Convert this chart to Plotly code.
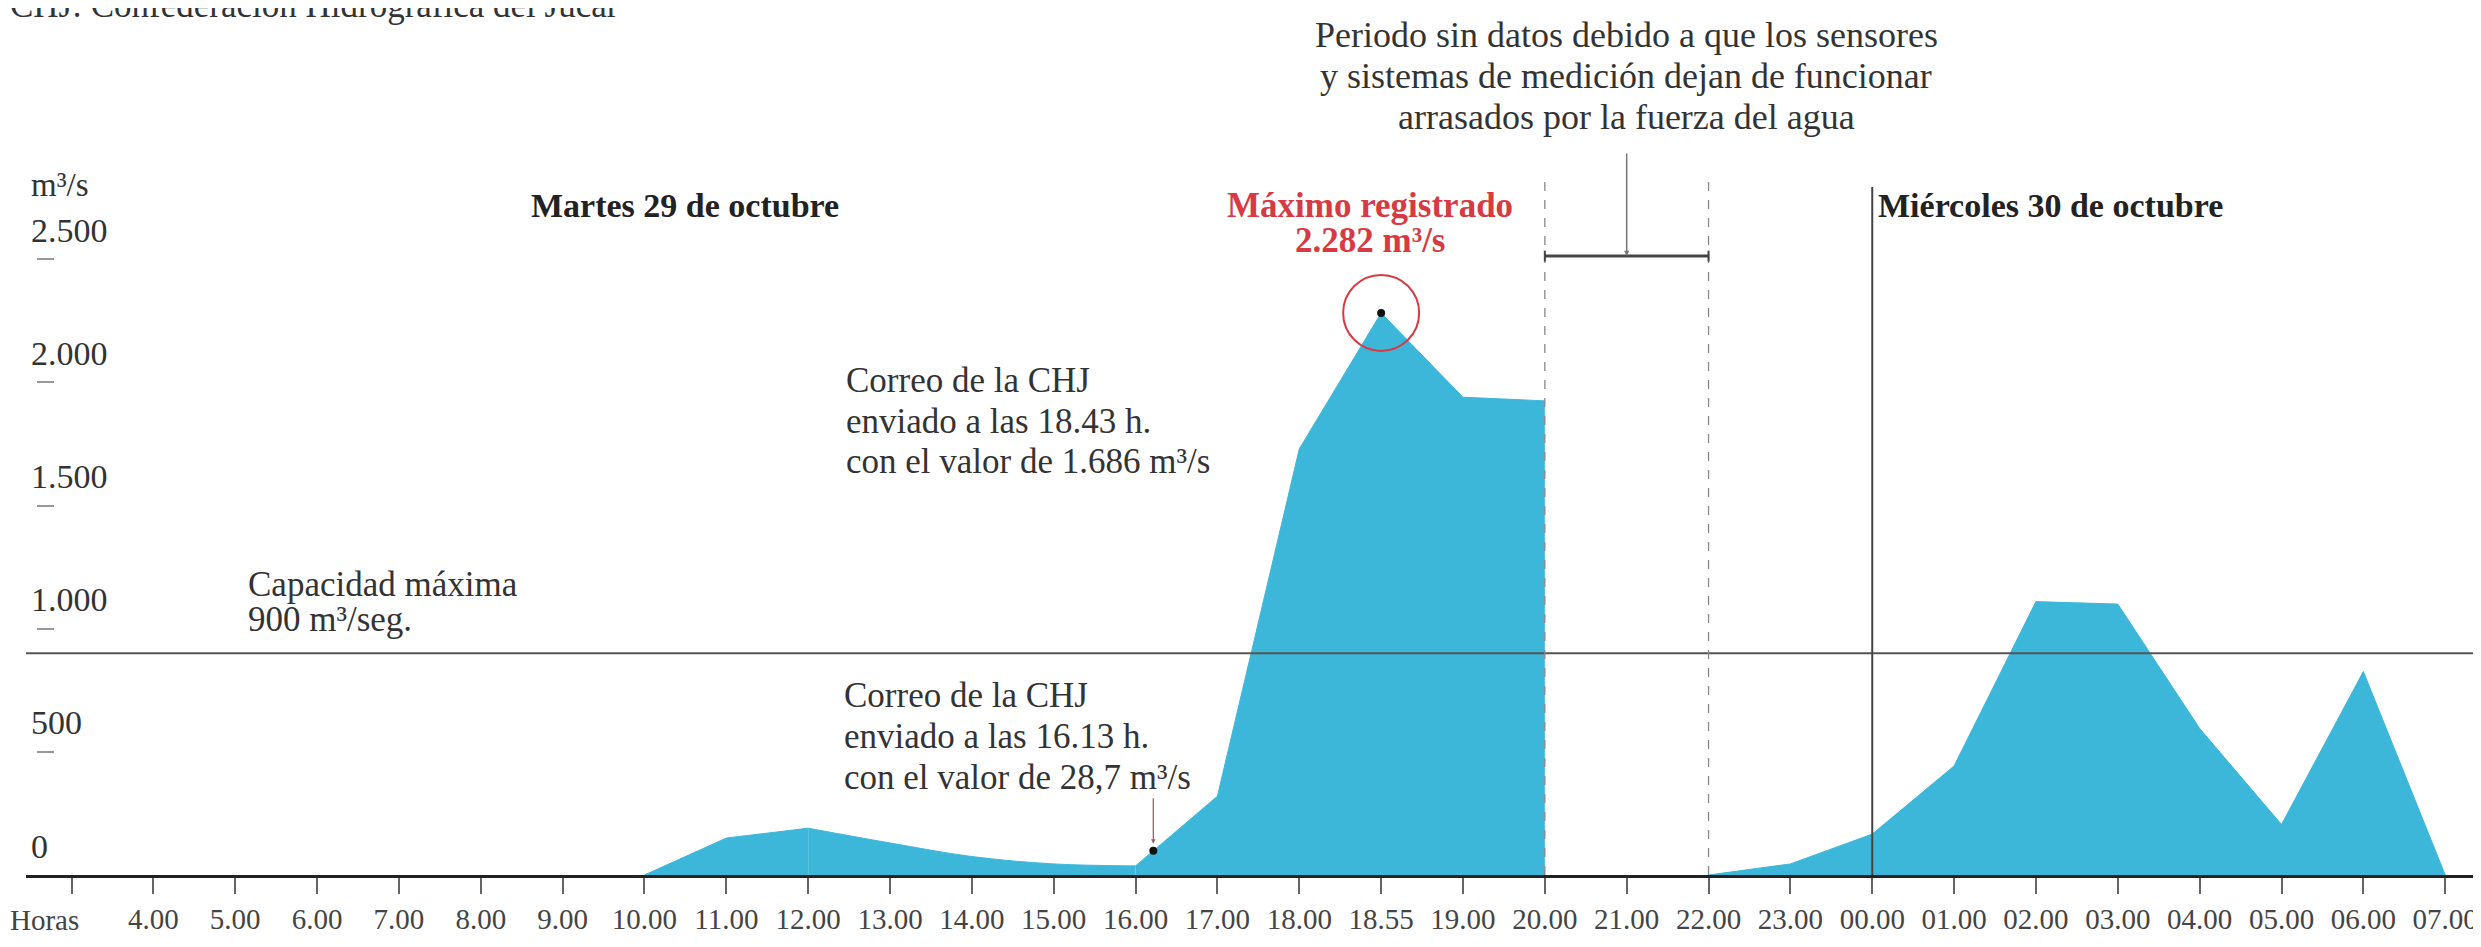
import numpy as np
import plotly.graph_objects as go

# ---------------- data ----------------
HOURS = ["Horas", "4.00", "5.00", "6.00", "7.00", "8.00", "9.00", "10.00", "11.00",
         "12.00", "13.00", "14.00", "15.00", "16.00", "17.00", "18.00", "18.55",
         "19.00", "20.00", "21.00", "22.00", "23.00", "00.00", "01.00", "02.00",
         "03.00", "04.00", "05.00", "06.00", "07.00"]

# Martes 29 de octubre (three pieces: rise, smooth valley, flood)
tue_a_hours = ["10.00", "11.00", "12.00"]
tue_a_vals = [0, 150, 190]
tue_b_hours = ["12.00", "13.00", "14.00", "15.00", "16.00"]
tue_b_vals = [190, 130, 75, 45, 37]
tue_c_hours = ["16.00", "17.00", "18.00", "18.55", "19.00", "20.00"]
tue_c_vals = [37, 320, 1730, 2282, 1940, 1925]

# Miércoles 30 de octubre
wed_hours = ["22.00", "23.00", "00.00", "01.00", "02.00", "03.00", "04.00",
             "05.00", "06.00", "07.00"]
wed_vals = [0, 45, 166, 443, 1110, 1100, 595, 205, 826, 0]

Y_TICKS = [0, 500, 1000, 1500, 2000, 2500]
Y_LABELS = ["0", "500", "1.000", "1.500", "2.000", "2.500"]
CAPACITY = 900
MAX_HOUR = "18.55"
MAX_VALUE = 2282
MAIL_HOUR = "16.00"
MAIL_MINUTES = 13
GAP_START, GAP_END = "20.00", "22.00"
DAY_CHANGE = "00.00"

# ---------------- layout constants ----------------
W, H = 2481, 947
ML, MR, MT, MB = 18, 0, 0, 80
PW, PH = W - ML - MR, H - MT - MB
X0, X1 = -0.556, 29.535
Y_MAX = PH / 0.2463
DY = -9   # vertical offset applied to text positions

BLUE = "rgb(61,183,217)"
RED = "#d83a44"
TXT = "#333333"
FONT = "Liberation Serif"


def pos(h):
    return HOURS.index(h)


def xpaper(px):
    return (px - ML) / PW


def ypaper(py):
    return (H - MB - py) / PH


fig = go.Figure()


def area(hours, vals, shape="linear"):
    fig.add_trace(go.Scatter(
        x=[pos(h) for h in hours], y=vals, mode="lines", fill="tozeroy",
        fillcolor=BLUE, line=dict(color=BLUE, width=1, shape=shape),
        hoverinfo="skip", showlegend=False))


area(tue_a_hours, tue_a_vals)
area(tue_b_hours, tue_b_vals, "spline")
area(tue_c_hours, tue_c_vals)
area(wed_hours, wed_vals)

# markers: maximum and the 16.13 h mail
mail_x = pos(MAIL_HOUR) + MAIL_MINUTES / 60
mail_y = float(np.interp(mail_x, [pos(h) for h in tue_c_hours], tue_c_vals))
fig.add_trace(go.Scatter(
    x=[pos(MAX_HOUR), mail_x], y=[MAX_VALUE, mail_y], mode="markers",
    marker=dict(color="#111111", size=8), hoverinfo="skip", showlegend=False))

shapes = []
# capacity line
shapes.append(dict(type="line", xref="paper", yref="y", x0=0, x1=1,
                   y0=CAPACITY, y1=CAPACITY, line=dict(color="#555555", width=2)))
# gap dashed lines
for h in (GAP_START, GAP_END):
    shapes.append(dict(type="line", xref="x", yref="y", x0=pos(h), x1=pos(h),
                       y0=0, y1=2826, line=dict(color="#888888", width=1.3, dash="dash")))
# bracket
BR = 2513
shapes.append(dict(type="line", xref="x", yref="y", x0=pos(GAP_START), x1=pos(GAP_END),
                   y0=BR, y1=BR, line=dict(color="#444444", width=3)))
for h in (GAP_START, GAP_END):
    shapes.append(dict(type="line", xref="x", yref="y", x0=pos(h), x1=pos(h),
                       y0=BR - 22, y1=BR + 22, line=dict(color="#444444", width=2)))
# day change line
shapes.append(dict(type="line", xref="x", yref="y", x0=pos(DAY_CHANGE), x1=pos(DAY_CHANGE),
                   y0=0, y1=2793, line=dict(color="#444444", width=2)))
# red circle around maximum
shapes.append(dict(type="circle", xref="x", yref="y",
                   xsizemode="pixel", ysizemode="pixel",
                   xanchor=pos(MAX_HOUR), yanchor=MAX_VALUE,
                   x0=-38, x1=38, y0=-38, y1=38,
                   line=dict(color=RED, width=2)))

ann = []


def text(s, px, py, size=35, color=TXT, bold=False, xanchor="left"):
    if bold:
        s = "<b>" + s + "</b>"
    ann.append(dict(text=s, xref="paper", yref="paper", x=xpaper(px), y=ypaper(py + DY),
                    xanchor=xanchor, yanchor="middle", showarrow=False,
                    font=dict(family=FONT, size=size, color=color)))


# source (cut at the top)
ann.append(dict(text="CHJ: Confederación Hidrográfica del Júcar", xref="paper", yref="paper",
                x=xpaper(0), y=ypaper(19), xanchor="left", yanchor="bottom",
                showarrow=False, font=dict(family=FONT, size=35, color=TXT)))

# y axis labels
text("m³/s", 21, 186, size=33)
for v, lab in zip(Y_TICKS, Y_LABELS):
    py = (H - MB - DY) - v / Y_MAX * PH
    text(lab, 21, py - 29, size=34)

# x axis caption (first tick)
text(HOURS[0], 0, 921, size=29, color="#444444")

# day titles
text("Martes 29 de octubre", 677, 207, size=34, color="#222222", bold=True, xanchor="center")
text("Miércoles 30 de octubre", 1868, 207, size=34, color="#222222", bold=True)

# maximum
text("Máximo registrado", 1362, 207, size=35, color=RED, bold=True, xanchor="center")
text("2.282 m³/s", 1362, 242, size=35, color=RED, bold=True, xanchor="center")

# no-data period
for i, s in enumerate(["Periodo sin datos debido a que los sensores",
                       "y sistemas de medición dejan de funcionar",
                       "arrasados por la fuerza del agua"]):
    text(s, 1618, 36 + 41 * i, size=36, xanchor="center")
ann.append(dict(text="", xref="x", yref="y", x=pos("21.00"), y=BR, ax=0, ay=-104,
                showarrow=True, arrowhead=2, arrowsize=0.7, arrowwidth=1.5,
                arrowcolor="#777777"))

# mails
for i, s in enumerate(["Correo de la CHJ", "enviado a las 18.43 h.",
                       "con el valor de 1.686 m³/s"]):
    text(s, 836, 381 + 41 * i)
for i, s in enumerate(["Correo de la CHJ", "enviado a las 16.13 h.",
                       "con el valor de 28,7 m³/s"]):
    text(s, 834, 696 + 41 * i)
ann.append(dict(text="", xref="x", yref="y", x=mail_x, y=mail_y, ax=0, ay=-54,
                showarrow=True, arrowhead=2, arrowsize=0.7, arrowwidth=1.3,
                arrowcolor="#9b6464", standoff=7))

# capacity
text("Capacidad máxima", 238, 585)
text("900 m³/seg.", 238, 620)

fig.update_layout(
    width=W, height=H,
    margin=dict(l=ML, r=MR, t=MT, b=MB, autoexpand=False),
    paper_bgcolor="white", plot_bgcolor="white",
    shapes=shapes, annotations=ann, showlegend=False,
    xaxis=dict(range=[X0, X1], tickmode="array", tickvals=list(range(len(HOURS))),
               ticktext=[""] + HOURS[1:], ticks="outside", ticklen=16, tickwidth=1.5,
               tickcolor="#666666", showline=True, linecolor="#222222", linewidth=3,
               showgrid=False, zeroline=False, ticklabelstandoff=0,
               tickfont=dict(family=FONT, size=29, color="#444444")),
    yaxis=dict(range=[0, Y_MAX], anchor="free", position=xpaper(46),
               tickmode="array", tickvals=Y_TICKS[1:], ticks="outside", ticklen=17,
               tickwidth=2, tickcolor="#999999", showticklabels=False,
               showline=False, showgrid=False, zeroline=False),
)

fig.write_html("out.html")
